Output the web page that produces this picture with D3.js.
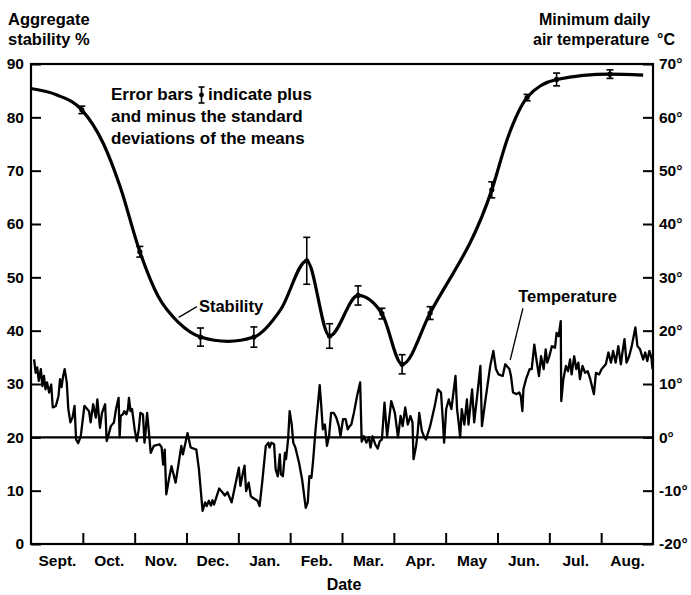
<!DOCTYPE html>
<html>
<head>
<meta charset="utf-8">
<script src="https://cdn.jsdelivr.net/npm/d3@7"></script>
<style>
  html, body { margin: 0; padding: 0; background: #fff; }
  svg { display: block; }
  text { font-family: "Liberation Sans", Arial, Helvetica, sans-serif; font-weight: bold; fill: #000; }
</style>
</head>
<body>
<svg id="chart" width="691" height="595"></svg>
<script>
// ---------- DATA ----------
const months = ["Sept.", "Oct.", "Nov.", "Dec.", "Jan.", "Feb.", "Mar.", "Apr.", "May", "Jun.", "Jul.", "Aug."];
const monthBoundaries = [1, 2, 3, 4, 5, 6, 7, 8, 9, 10, 11];
const stabilityTicks = [0, 10, 20, 30, 40, 50, 60, 70, 80, 90];
const temperatureTicks = [-20, -10, 0, 10, 20, 30, 40, 50, 60, 70];

// smoothed stability curve knots: [month index from Sept 1, aggregate stability %]
const stabilityCurve = [
  [0.00, 85.4], [0.50, 84.2], [0.98, 81.4], [1.40, 75.0], [1.72, 67.0], [2.10, 54.8],
  [2.45, 46.5], [2.85, 41.5], [3.27, 38.8], [3.80, 38.0], [4.30, 38.8], [4.82, 44.0],
  [5.32, 53.1], [5.76, 39.0], [6.31, 46.6], [6.77, 43.2], [7.16, 33.7], [7.70, 43.3],
  [8.89, 66.4], [9.21, 76.5], [9.57, 83.7], [10.14, 87.1], [11.17, 88.1], [11.81, 87.9]
];
// sampled means with standard deviations: [month, mean, sd]
const stabilityMeans = [
  [0.98, 81.4, 0.7], [2.10, 54.8, 1.0], [3.27, 38.8, 1.7], [4.30, 38.8, 1.9],
  [5.32, 53.1, 4.4], [5.76, 39.0, 2.3], [6.31, 46.6, 1.8], [6.77, 43.2, 1.0],
  [7.16, 33.7, 1.8], [7.70, 43.3, 1.2], [8.89, 66.4, 1.5], [9.57, 83.7, 0.6],
  [10.14, 87.1, 1.2], [11.17, 88.1, 0.8]
];
// minimum daily air temperature: [month, °C]
const temperature = [
  [0.06,14.6],[0.09,12.1],[0.12,13.1],[0.15,10.6],[0.19,12.8],[0.22,9.6],[0.25,11.5],[0.28,9.0],
  [0.31,10.3],[0.35,8.4],[0.39,9.9],[0.42,5.6],[0.48,5.9],[0.53,7.7],[0.56,10.9],[0.59,9.4],
  [0.62,11.5],[0.65,12.8],[0.69,10.3],[0.72,5.3],[0.76,2.8],[0.80,3.7],[0.84,5.9],[0.87,-0.4],
  [0.91,-1.1],[0.96,0.2],[1.03,5.9],[1.12,4.9],[1.15,2.8],[1.20,6.2],[1.25,3.7],[1.28,7.1],
  [1.33,1.8],[1.37,4.6],[1.43,6.2],[1.46,-0.7],[1.50,0.6],[1.54,2.1],[1.60,2.8],[1.64,5.3],
  [1.69,7.4],[1.71,0.0],[1.73,4.0],[1.77,4.3],[1.80,4.9],[1.84,4.3],[1.87,5.3],[1.89,7.4],
  [1.92,4.9],[1.95,5.3],[2.00,1.5],[2.04,-0.7],[2.08,1.5],[2.11,4.6],[2.16,4.3],[2.19,-1.0],
  [2.21,0.9],[2.24,4.6],[2.27,1.5],[2.31,-2.9],[2.37,-1.6],[2.48,-1.3],[2.52,-1.9],[2.55,-5.1],
  [2.58,-2.3],[2.61,-10.7],[2.66,-7.9],[2.71,-5.4],[2.79,-8.5],[2.84,-5.4],[2.90,-1.6],[2.93,-3.2],
  [2.98,-1.0],[3.02,0.8],[3.06,-1.0],[3.08,-1.9],[3.19,-2.3],[3.24,-6.0],[3.31,-13.8],[3.36,-12.2],
  [3.39,-12.9],[3.43,-11.9],[3.47,-12.8],[3.50,-11.8],[3.53,-12.6],[3.63,-9.6],[3.70,-10.4],[3.74,-10.9],
  [3.79,-10.3],[3.87,-12.2],[3.95,-8.5],[4.01,-5.7],[4.04,-9.1],[4.09,-6.6],[4.12,-5.3],[4.15,-10.1],
  [4.20,-8.5],[4.24,-11.0],[4.27,-11.3],[4.37,-11.9],[4.41,-12.9],[4.46,-8.5],[4.53,-1.6],[4.58,-1.0],
  [4.60,-1.9],[4.64,-1.0],[4.69,-1.3],[4.72,-6.0],[4.76,-7.3],[4.80,-3.2],[4.82,-6.9],[4.86,-7.3],
  [4.90,-2.9],[4.92,-4.1],[4.96,-0.4],[4.99,4.9],[5.03,2.4],[5.06,-1.0],[5.10,-1.9],[5.17,-4.7],
  [5.23,-7.9],[5.30,-13.2],[5.34,-12.2],[5.37,-7.3],[5.41,-7.6],[5.44,-4.7],[5.49,1.5],[5.57,9.8],
  [5.60,5.9],[5.63,1.5],[5.67,2.4],[5.71,-1.6],[5.75,0.2],[5.79,4.6],[5.84,4.6],[5.89,3.7],
  [5.94,2.1],[5.97,0.2],[6.02,3.4],[6.07,3.4],[6.11,1.5],[6.14,2.0],[6.18,2.4],[6.23,4.6],
  [6.29,7.7],[6.35,10.3],[6.38,-0.8],[6.42,0.2],[6.47,-1.0],[6.52,0.0],[6.55,-1.9],[6.59,0.2],
  [6.64,-1.3],[6.69,-2.1],[6.73,-0.7],[6.77,-0.4],[6.82,6.5],[6.87,0.2],[6.95,6.8],[7.02,4.6],
  [7.08,0.0],[7.13,4.0],[7.17,2.1],[7.22,5.6],[7.27,2.4],[7.32,4.0],[7.36,2.8],[7.38,-4.1],
  [7.43,-1.6],[7.46,0.9],[7.49,4.6],[7.54,1.2],[7.58,0.2],[7.62,-0.4],[7.70,2.1],[7.79,5.9],
  [7.85,9.0],[7.91,8.4],[7.94,4.0],[7.97,-1.0],[8.01,5.3],[8.06,7.1],[8.11,5.3],[8.19,11.5],
  [8.22,5.3],[8.25,2.8],[8.28,0.0],[8.31,5.3],[8.36,2.4],[8.41,7.1],[8.44,2.4],[8.51,9.0],
  [8.55,2.8],[8.60,7.1],[8.67,13.4],[8.70,2.1],[8.76,6.5],[8.86,13.4],[8.92,16.2],[8.97,12.8],
  [9.02,11.8],[9.10,11.5],[9.15,13.7],[9.23,12.8],[9.26,11.5],[9.30,8.4],[9.37,8.1],[9.42,8.4],
  [9.45,7.7],[9.48,4.9],[9.50,9.0],[9.55,10.9],[9.62,12.8],[9.66,12.8],[9.71,17.4],[9.76,14.0],
  [9.80,11.5],[9.84,15.2],[9.89,12.8],[9.93,16.5],[9.96,14.0],[10.00,15.2],[10.05,17.1],[10.11,16.8],
  [10.14,19.6],[10.18,19.0],[10.22,21.8],[10.23,6.8],[10.27,10.9],[10.32,13.4],[10.36,12.4],[10.40,14.6],
  [10.43,11.8],[10.48,15.2],[10.52,12.8],[10.56,14.0],[10.59,10.9],[10.64,13.4],[10.69,12.1],[10.74,12.4],
  [10.79,10.9],[10.86,8.1],[10.90,12.1],[10.96,11.8],[11.01,12.8],[11.09,13.7],[11.14,15.9],[11.19,14.0],
  [11.23,16.2],[11.28,14.0],[11.33,17.1],[11.38,13.7],[11.41,15.9],[11.45,18.4],[11.49,14.0],[11.54,15.2],
  [11.59,17.1],[11.66,20.6],[11.70,17.1],[11.75,16.5],[11.81,14.6],[11.85,15.9],[11.89,14.3],[11.93,16.2],
  [11.97,14.9],[11.99,12.8]
];

// ---------- LAYOUT ----------
const svg = d3.select("#chart");
const plotL = 31, plotR = 653, plotT = 64, plotB = 544;

const x = d3.scaleLinear().domain([0, 12]).range([plotL, plotR]);
const y = d3.scaleLinear().domain([0, 90]).range([plotB, plotT]);
const yT = d3.scaleLinear().domain([-20, 70]).range([plotB, plotT]);

// frame
svg.append("rect")
  .attr("x", plotL).attr("y", plotT)
  .attr("width", plotR - plotL).attr("height", plotB - plotT)
  .attr("fill", "none").attr("stroke", "#000").attr("stroke-width", 2.2);

// zero-degree line
svg.append("line")
  .attr("x1", plotL).attr("x2", plotR)
  .attr("y1", yT(0)).attr("y2", yT(0))
  .attr("stroke", "#000").attr("stroke-width", 2.2);

// left axis
const gL = svg.append("g").attr("transform", `translate(${plotL},0)`)
  .call(d3.axisLeft(y).tickValues(stabilityTicks).tickSize(-10).tickPadding(7));
gL.select(".domain").remove();
gL.selectAll(".tick line").attr("stroke", "#000").attr("stroke-width", 2);
gL.selectAll(".tick text").style("font-size", "15.5px").attr("fill", "#000");

// right axis
const gR = svg.append("g").attr("transform", `translate(${plotR},0)`)
  .call(d3.axisRight(yT).tickValues(temperatureTicks).tickSize(-10).tickPadding(6)
    .tickFormat(d => d + "°"));
gR.select(".domain").remove();
gR.selectAll(".tick line").attr("stroke", "#000").attr("stroke-width", 2);
gR.selectAll(".tick text").style("font-size", "15.5px").attr("fill", "#000");

// bottom month boundary ticks
const gB = svg.append("g").attr("transform", `translate(0,${plotB})`)
  .call(d3.axisBottom(x).tickValues(monthBoundaries).tickSize(-11).tickFormat(""));
gB.select(".domain").remove();
gB.selectAll(".tick line").attr("stroke", "#000").attr("stroke-width", 2);

// month labels
const gM = svg.append("g").attr("transform", `translate(0,${plotB})`)
  .call(d3.axisBottom(x).tickValues(months.map((m, i) => i + 0.5)).tickSize(0).tickPadding(11)
    .tickFormat((d, i) => months[i]));
gM.select(".domain").remove();
gM.selectAll(".tick text").style("font-size", "15.5px").attr("fill", "#000");

// temperature line
svg.append("path")
  .datum(temperature)
  .attr("fill", "none").attr("stroke", "#000").attr("stroke-width", 2.3)
  .attr("stroke-linejoin", "round")
  .attr("d", d3.line().x(d => x(d[0])).y(d => yT(d[1])));

// stability curve
svg.append("path")
  .datum(stabilityCurve)
  .attr("fill", "none").attr("stroke", "#000").attr("stroke-width", 3.2)
  .attr("d", d3.line().x(d => x(d[0])).y(d => y(d[1])).curve(d3.curveMonotoneX));

// error bars
const eb = svg.append("g").selectAll("g").data(stabilityMeans).join("g");
eb.append("line")
  .attr("x1", d => x(d[0])).attr("x2", d => x(d[0]))
  .attr("y1", d => y(d[1] + d[2])).attr("y2", d => y(d[1] - d[2]))
  .attr("stroke", "#000").attr("stroke-width", 1.6);
eb.append("line")
  .attr("x1", d => x(d[0]) - 3.5).attr("x2", d => x(d[0]) + 3.5)
  .attr("y1", d => y(d[1] + d[2])).attr("y2", d => y(d[1] + d[2]))
  .attr("stroke", "#000").attr("stroke-width", 1.6);
eb.append("line")
  .attr("x1", d => x(d[0]) - 3.5).attr("x2", d => x(d[0]) + 3.5)
  .attr("y1", d => y(d[1] - d[2])).attr("y2", d => y(d[1] - d[2]))
  .attr("stroke", "#000").attr("stroke-width", 1.6);
eb.append("circle")
  .attr("cx", d => x(d[0])).attr("cy", d => y(d[1])).attr("r", 2.6).attr("fill", "#000");

// axis titles
svg.append("text").attr("x", 8).attr("y", 25).style("font-size", "16.5px").text("Aggregate");
svg.append("text").attr("x", 8).attr("y", 45).style("font-size", "16.5px").text("stability %");
svg.append("text").attr("x", 539).attr("y", 25).style("font-size", "16px").text("Minimum daily");
svg.append("text").attr("x", 533).attr("y", 45).style("font-size", "16px").text("air temperature");
svg.append("text").attr("x", 657).attr("y", 45).style("font-size", "16px").text("°C");
svg.append("text").attr("x", 344).attr("y", 590).attr("text-anchor", "middle")
  .style("font-size", "16px").text("Date");

// legend note
svg.append("text").attr("x", 111).attr("y", 99.5).style("font-size", "17px").text("Error bars");
svg.append("text").attr("x", 208).attr("y", 99.5).style("font-size", "17px").text("indicate plus");
svg.append("text").attr("x", 111).attr("y", 122).style("font-size", "17px").text("and minus the standard");
svg.append("text").attr("x", 111).attr("y", 144).style("font-size", "17px").text("deviations of the means");
const lg = svg.append("g").attr("transform", "translate(201.5,95)");
lg.append("line").attr("x1", 0).attr("x2", 0).attr("y1", -8).attr("y2", 8).attr("stroke", "#000").attr("stroke-width", 1.6);
lg.append("line").attr("x1", -3).attr("x2", 3).attr("y1", -8).attr("y2", -8).attr("stroke", "#000").attr("stroke-width", 1.6);
lg.append("line").attr("x1", -3).attr("x2", 3).attr("y1", 8).attr("y2", 8).attr("stroke", "#000").attr("stroke-width", 1.6);
lg.append("circle").attr("r", 2.4).attr("fill", "#000");

// series labels with leader lines
svg.append("line")
  .attr("x1", x(2.85)).attr("y1", y(42.5)).attr("x2", x(3.2)).attr("y2", y(44.5))
  .attr("stroke", "#000").attr("stroke-width", 1.3);
svg.append("text").attr("x", x(3.24)).attr("y", y(43.5)).style("font-size", "16.5px").text("Stability");

svg.append("line")
  .attr("x1", x(9.245)).attr("y1", yT(14.5)).attr("x2", x(9.49)).attr("y2", yT(24.2))
  .attr("stroke", "#000").attr("stroke-width", 1.3);
svg.append("text").attr("x", x(9.40)).attr("y", yT(25.4)).style("font-size", "16.5px").text("Temperature");
</script>
</body>
</html>
